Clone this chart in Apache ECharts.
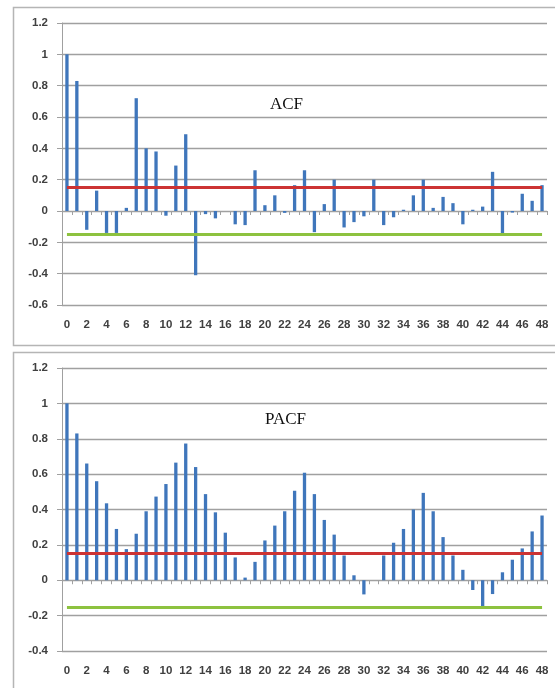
<!DOCTYPE html>
<html>
<head>
<meta charset="utf-8">
<script src="https://cdn.jsdelivr.net/npm/echarts@6/dist/echarts.min.js"></script>
<style>
html,body{margin:0;padding:0;background:#fff;}
#c{width:555px;height:688px;}
</style>
</head>
<body>
<div id="c"></div>
<script>
const lags = ['0','1','2','3','4','5','6','7','8','9','10','11','12','13','14','15','16','17','18','19','20','21','22','23','24','25','26','27','28','29','30','31','32','33','34','35','36','37','38','39','40','41','42','43','44','45','46','47','48'];
const acf = [1.0, 0.83, -0.12, 0.13, -0.14, -0.14, 0.02, 0.72, 0.40, 0.38, -0.03, 0.29, 0.49, -0.41, -0.02, -0.047, 0, -0.085, -0.09, 0.26, 0.037, 0.10, -0.012, 0.165, 0.26, -0.135, 0.044, 0.20, -0.105, -0.071, -0.034, 0.20, -0.09, -0.04, 0.008, 0.10, 0.20, 0.02, 0.09, 0.05, -0.085, 0.008, 0.028, 0.25, -0.145, -0.01, 0.11, 0.065, 0.165];
const pacf = [1.0, 0.83, 0.66, 0.56, 0.435, 0.29, 0.176, 0.263, 0.39, 0.473, 0.544, 0.665, 0.773, 0.64, 0.487, 0.384, 0.269, 0.129, 0.015, 0.104, 0.225, 0.309, 0.39, 0.506, 0.608, 0.487, 0.341, 0.258, 0.14, 0.028, -0.08, 0, 0.14, 0.212, 0.29, 0.40, 0.494, 0.39, 0.244, 0.14, 0.059, -0.055, -0.146, -0.078, 0.045, 0.116, 0.18, 0.276, 0.366];
const upperBound = 0.15;
const lowerBound = -0.15;
const acfRange = {min: -0.6, max: 1.2};
const pacfRange = {min: -0.4, max: 1.2};
const titles = ['ACF', 'PACF'];

const chart = echarts.init(document.getElementById('c'), null, {renderer: 'canvas'});
const labelFont = {fontFamily: 'Liberation Sans', fontSize: 11.5, color: '#404040', fontWeight: 'bold'};
const gridColor = '#a0a0a0';
const fmt = v => String(Math.round(v * 10) / 10);

function xAxes(gi) {
  return [
    {type: 'category', gridIndex: gi, data: lags, position: 'bottom',
     axisLine: {show: false, onZero: false}, axisTick: {show: false},
     axisLabel: Object.assign({interval: 1, margin: 14}, labelFont)},
    {type: 'category', gridIndex: gi, data: lags, position: 'top',
     axisLine: {show: true, onZero: true, lineStyle: {color: gridColor, width: 1}},
     axisTick: {show: true, inside: true, length: 4, interval: 0, lineStyle: {color: gridColor}},
     axisLabel: {show: false}}
  ];
}
function yAxis(gi, r) {
  return {type: 'value', gridIndex: gi, min: r.min, max: r.max, interval: 0.2,
    axisLine: {show: true, lineStyle: {color: gridColor}},
    axisTick: {show: true, length: 5, lineStyle: {color: gridColor}},
    splitLine: {show: true, lineStyle: {color: gridColor, width: 1.3}},
    axisLabel: Object.assign({margin: 14, formatter: fmt}, labelFont)};
}
function bounds() {
  return {
    symbol: 'none', silent: true, label: {show: false},
    data: [
      [{coord: [lags[0], upperBound], lineStyle: {color: '#cc3333', width: 3, type: 'solid'}},
       {coord: [lags[lags.length - 1], upperBound]}],
      [{coord: [lags[0], lowerBound], lineStyle: {color: '#8dc23f', width: 3, type: 'solid'}},
       {coord: [lags[lags.length - 1], lowerBound]}]
    ]
  };
}

chart.setOption({
  backgroundColor: '#ffffff',
  animation: false,
  grid: [
    {left: 62, right: 8, top: 23, height: 282},
    {left: 62, right: 8, top: 368, height: 283}
  ],
  xAxis: xAxes(0).concat(xAxes(1)),
  yAxis: [yAxis(0, acfRange), yAxis(1, pacfRange)],
  graphic: [
    {type: 'rect', shape: {x: 13.5, y: 7.5, width: 560, height: 338}, style: {fill: 'none', stroke: '#b5b5b5', lineWidth: 1.5}, z: 0},
    {type: 'rect', shape: {x: 13.5, y: 352.5, width: 560, height: 360}, style: {fill: 'none', stroke: '#b5b5b5', lineWidth: 1.5}, z: 0},
    {type: 'text', left: 270, top: 96, style: {text: titles[0], font: '17px "Liberation Serif"', fill: '#111'}, z: 10},
    {type: 'text', left: 265, top: 411, style: {text: titles[1], font: '17px "Liberation Serif"', fill: '#111'}, z: 10}
  ],
  series: [
    {type: 'bar', xAxisIndex: 0, yAxisIndex: 0, data: acf, barWidth: 3.3,
     itemStyle: {color: '#3f76bb'}, markLine: bounds(), z: 3},
    {type: 'bar', xAxisIndex: 2, yAxisIndex: 1, data: pacf, barWidth: 3.3,
     itemStyle: {color: '#3f76bb'}, markLine: bounds(), z: 3}
  ]
});
</script>
</body>
</html>
